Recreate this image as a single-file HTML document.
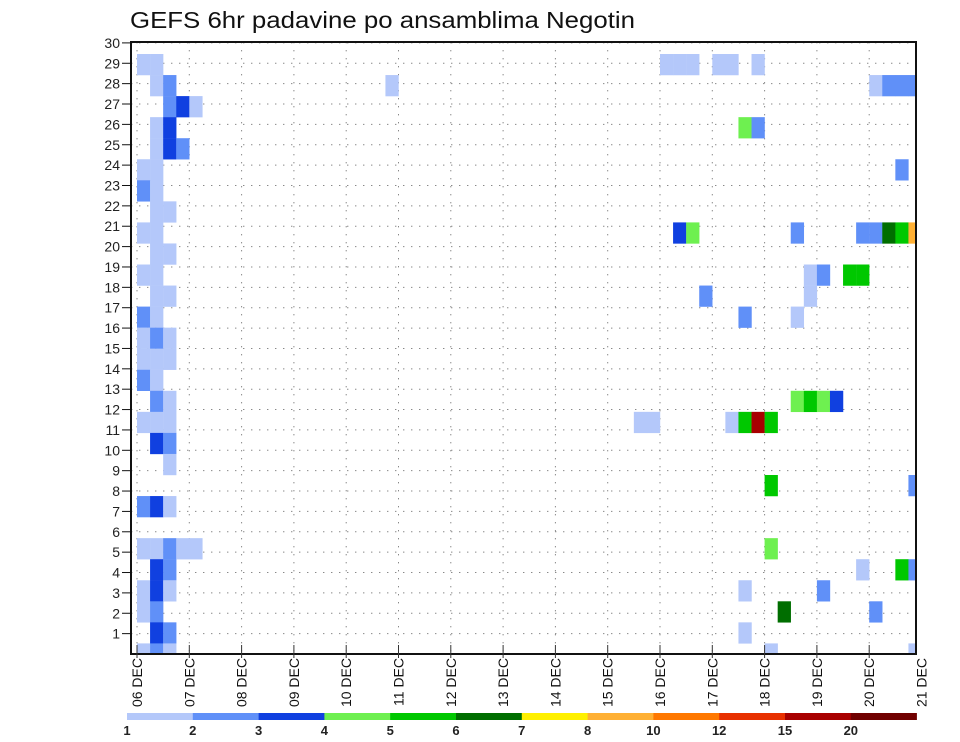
<!DOCTYPE html>
<html><head><meta charset="utf-8"><style>
html,body{margin:0;padding:0;background:#fff;}
svg{display:block;font-family:"Liberation Sans",sans-serif;}
</style></head><body>
<svg id="chart" width="960" height="742" viewBox="0 0 960 742" xmlns="http://www.w3.org/2000/svg">
<text x="130" y="28" font-size="23" textLength="505" lengthAdjust="spacingAndGlyphs" fill="#111">GEFS 6hr padavine po ansamblima Negotin</text>
<g id="grid"></g>
<g id="cells"></g>
<g id="axes"></g>
<g id="legend"></g>
</svg>
<script>
// ---- data ----
const dayLabels = ["06 DEC","07 DEC","08 DEC","09 DEC","10 DEC","11 DEC","12 DEC","13 DEC","14 DEC","15 DEC","16 DEC","17 DEC","18 DEC","19 DEC","20 DEC","21 DEC"];
const memberTicks = [1,2,3,4,5,6,7,8,9,10,11,12,13,14,15,16,17,18,19,20,21,22,23,24,25,26,27,28,29,30];
const legendLabels = ["1","2","3","4","5","6","7","8","10","12","15","20"];
const levelColors = ["#b4c8fa","#6090f8","#1040e0","#6ef050","#00c800","#006e00","#fff000","#ffb034","#ff7800","#e83000","#a80000","#700000"];
// cells: member row, 6-hour step index from 06 DEC 00Z, colour level (1-based)
const cellMember = [29,29, 28,28, 27,27,27, 26,26, 25,25,25, 24,24, 23,23, 22,22, 21,21, 20,20, 19,19, 18,18, 17,17, 16,16,16, 15,15,15, 14,14, 13,13, 12,12,12, 11,11, 10, 8,8,8, 6,6,6,6,6, 5,5, 4,4,4, 3,3, 2,2, 1,1,1,
 28, 13,13,13,13, 12,12,12,12,12,12, 9,9, 6, 5,5,5, 4,4, 3,3, 2, 1,1,
 29,29,29,29,29,29, 28,28,28,28, 26,26, 24, 21,21,21,21,21,21,21,21, 19,19,19,19, 18,18, 17,17];
const cellStep   = [0,1, 1,2, 2,3,4, 1,2, 1,2,3, 0,1, 0,1, 1,2, 0,1, 1,2, 0,1, 1,2, 0,1, 0,1,2, 0,1,2, 0,1, 1,2, 0,1,2, 1,2, 2, 0,1,2, 0,1,2,3,4, 1,2, 0,1,2, 0,1, 1,2, 0,1,2,
 19, 50,51,52,53, 38,39,45,46,47,48, 48,59, 48, 55,58,59, 46,52, 49,56, 46, 48,59,
 40,41,42,44,45,47, 56,57,58,59, 46,47, 58, 41,42,50,55,56,57,58,59, 51,52,54,55, 51,43, 46,50];
const cellLevel  = [1,1, 1,2, 2,3,1, 1,3, 1,3,2, 1,1, 2,1, 1,1, 1,1, 1,1, 1,1, 1,1, 2,1, 1,2,1, 1,1,1, 2,1, 2,1, 1,1,1, 3,2, 1, 2,3,1, 1,1,2,1,1, 3,2, 1,3,1, 1,2, 3,2, 1,2,1,
 1, 4,5,4,3, 1,1,1,5,11,5, 5,2, 4, 1,5,2, 1,2, 6,2, 1, 1,1,
 1,1,1,1,1,1, 1,2,2,2, 4,2, 2, 3,4,2,2,2,6,5,8, 1,2,5,5, 1,2, 2,1];

// ---- scales ----
const plotL=131, plotR=916, plotT=42, plotB=654;
const x0=137, dayW=52.3, stepW=dayW/4;
function xDay(d){return x0+d*dayW;}
function xStep(s){return x0+s*stepW;}
function yTick(k){return 654-20.37*k;}
const cellH=21.05;
function yCellTop(m){return 54+cellH*(29-m);}

const NS="http://www.w3.org/2000/svg";
function mk(tag,attrs,parent){const e=document.createElementNS(NS,tag);for(const k in attrs)e.setAttribute(k,attrs[k]);parent.appendChild(e);return e;}

const grid=document.getElementById('grid');
memberTicks.forEach(k=>{
  const l=mk('line',{x1:plotL,x2:plotR,y1:yTick(k),y2:yTick(k),stroke:'#888','stroke-width':1,'stroke-dasharray':'1.4 6.6'},grid);
  
  
});
dayLabels.forEach((d,i)=>{
  const x=xDay(i); if(x>plotR) return;
  const l=mk('line',{x1:x,x2:x,y1:plotT,y2:plotB,stroke:'#888','stroke-width':1,'stroke-dasharray':'1.4 6.6'},grid);
  
  
});

const cg=document.getElementById('cells');
mk('clipPath',{id:'pc'},cg);
document.getElementById('pc').appendChild(Object.assign(document.createElementNS(NS,'rect'),{}));
const cr=document.querySelector('#pc rect');
cr.setAttribute('x',plotL);cr.setAttribute('y',plotT);cr.setAttribute('width',plotR-plotL);cr.setAttribute('height',plotB-plotT);
const cellGroup=mk('g',{'clip-path':'url(#pc)'},cg);
for(let i=0;i<cellMember.length;i++){
  const r=mk('rect',{x:xStep(cellStep[i]),y:yCellTop(cellMember[i]),width:stepW+0.2,height:cellH+0.2,fill:levelColors[cellLevel[i]-1]},cellGroup);
  
  
}

const ax=document.getElementById('axes');
const frame=mk('rect',{x:plotL,y:plotT,width:plotR-plotL,height:plotB-plotT,fill:'none',stroke:'#111','stroke-width':2},ax);


memberTicks.forEach(k=>{
  const y=yTick(k);
  mk('line',{x1:122,x2:plotL,y1:y,y2:y,stroke:'#111','stroke-width':1},ax);
  const t=mk('text',{x:120,y:y+5,'font-size':14,'text-anchor':'end',fill:'#222'},ax);
  t.textContent=k;
  
  
});
dayLabels.forEach((d,i)=>{
  const x=xDay(i);
  if(x<=plotR) mk('line',{x1:x,x2:x,y1:plotB-9,y2:plotB+4,stroke:'#333','stroke-width':1},ax);
  const t=mk('text',{x:0,y:0,'font-size':14,'text-anchor':'end',fill:'#111',transform:`translate(${x+5},${658}) rotate(-90)`},ax);
  t.textContent=d;
  
  
});

const lg=document.getElementById('legend');
const segW=65.8, lx0=127;
legendLabels.forEach((lab,i)=>{
  const r=mk('rect',{x:lx0+i*segW,y:713,width:segW+0.3,height:7,fill:levelColors[i]},lg);
  
  
  const t=mk('text',{x:lx0+i*segW,y:735,'font-size':13,'font-weight':'bold','text-anchor':'middle',fill:'#222'},lg);
  t.textContent=lab;
  
  
});
</script>
</body></html>
